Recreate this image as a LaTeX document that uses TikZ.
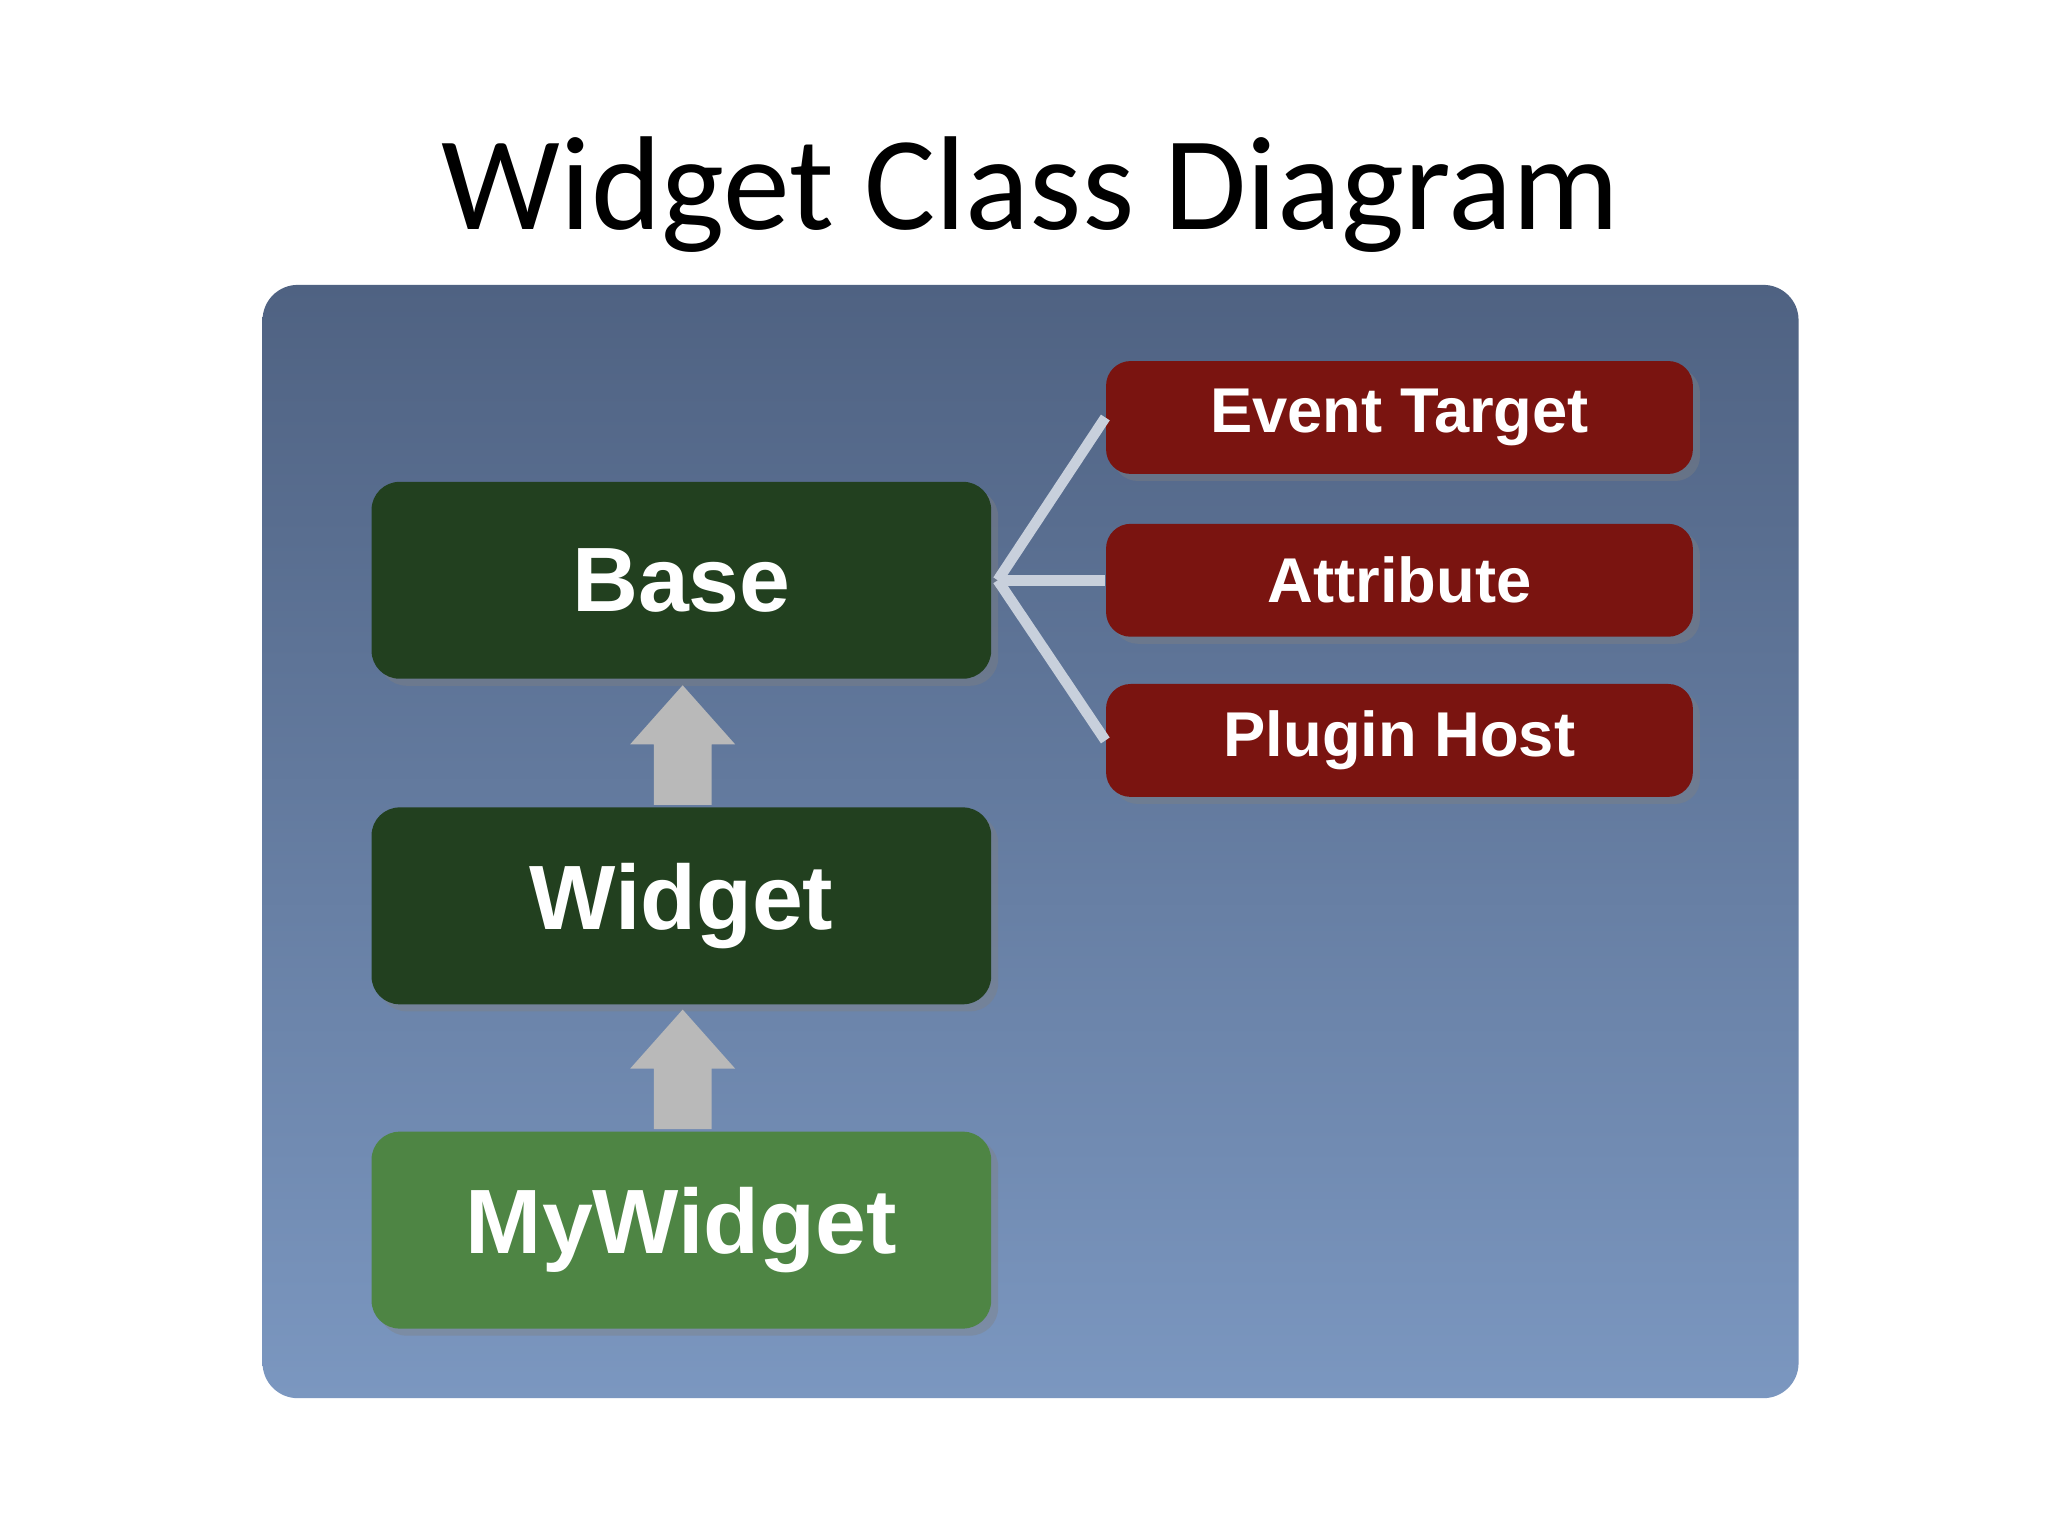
\documentclass[tikz,border=0pt]{standalone}
\usepackage{fontspec}
\setmainfont{Carlito}
\newfontfamily\boxfont{Liberation Sans}
\usetikzlibrary{shadows}
\definecolor{dkg}{HTML}{22401F}
\definecolor{ltg}{HTML}{4E8544}
\definecolor{red1}{HTML}{7A1410}
\definecolor{ptop}{HTML}{4F6282}
\definecolor{pbot}{HTML}{7B97C0}
\definecolor{lnk}{HTML}{C8D0DC}
\begin{document}
\begin{tikzpicture}[x=0.013128cm,y=-0.013128cm,
  cls/.style={rounded corners=8pt,text=white,font=\boxfont\bfseries\fontsize{26}{30}\selectfont,drop shadow={shadow xshift=2pt,shadow yshift=-2pt,opacity=0.4}},
  mix/.style={rounded corners=7pt,fill=red1,text=white,font=\boxfont\bfseries\fontsize{18}{22}\selectfont,drop shadow={shadow xshift=2pt,shadow yshift=-2pt,opacity=0.4}},
  link/.style={draw=lnk,line width=3pt},
  inh/.style={fill=gray!55,draw=none}]
\useasboundingbox (0,0) rectangle (1560,1170);
\fill[white] (0,0) rectangle (1560,1170);
\node (title) at (785,148) {\fontsize{38}{44}\selectfont Widget Class Diagram};
\shade[top color=ptop,bottom color=pbot,rounded corners=10pt] (200,217) rectangle (1370,1065);
\node[cls,fill=dkg,minimum width=472*0.013128cm,minimum height=150*0.013128cm] (base) at (519,442) {Base};
\node[cls,fill=dkg,minimum width=472*0.013128cm,minimum height=150*0.013128cm] (widget) at (519,690) {Widget};
\node[cls,fill=ltg,minimum width=472*0.013128cm,minimum height=150*0.013128cm] (my) at (519,937) {MyWidget};
\node[mix,minimum width=447*0.013128cm,minimum height=86*0.013128cm] (ev) at (1066,318) {Event Target};
\node[mix,minimum width=447*0.013128cm,minimum height=86*0.013128cm] (at) at (1066,442) {Attribute};
\node[mix,minimum width=447*0.013128cm,minimum height=86*0.013128cm] (ph) at (1066,564) {Plugin Host};
\coordinate (hub) at (760,442);
\draw[link] (hub) -- (ev.west);
\draw[link] (hub) -- (at.west);
\draw[link] (hub) -- (ph.west);
\fill[inh] (498,613) -- (498,567) -- (480,567) -- (520,522) -- (560,567) -- (542,567) -- (542,613) -- cycle;
\fill[inh] (498,860) -- (498,814) -- (480,814) -- (520,769) -- (560,814) -- (542,814) -- (542,860) -- cycle;
\end{tikzpicture}
\end{document}
